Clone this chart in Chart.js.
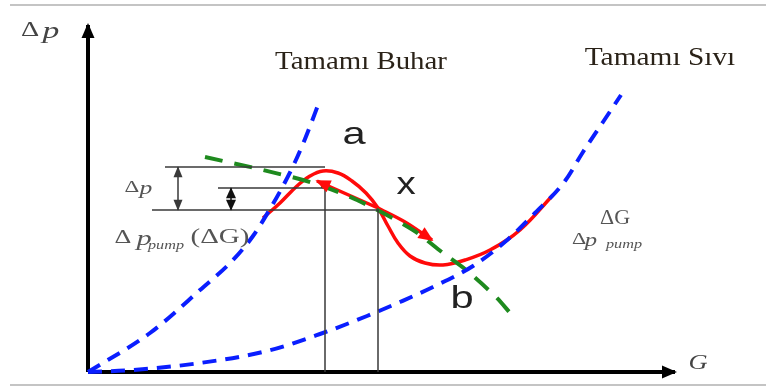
<!DOCTYPE html>
<html>
<head>
<meta charset="utf-8">
<script src="https://cdn.jsdelivr.net/npm/chart.js@4.4.1/dist/chart.umd.min.js"></script>
<style>
  html, body { margin: 0; padding: 0; background: #fff; }
</style>
</head>
<body>
<canvas id="pumpChart" width="766" height="387"></canvas>
<script>
// Curves in (G, dp) units, origin at the axis corner
const buharCurve = [[0,0],[62,39],[112,82],[145,112],[165,136],[182,163],[195,186],[207,210],[217,233],[232,272]];
const siviCurve = [[0,0],[45,2],[112,9],[179,21],[232,38],[279,56],[312,70],[345,85],[385,106],[418,131],[447,159],[477,191],[495,220],[515,250],[533,277]];
const pumpLine = [[117,215],[175,202],[225,189],[269,172],[325,142],[355,119],[378,102],[408,75],[423,58]];
const redLoop = [[175,154],[192,169],[209,186],[222,196],[235,201],[250,199],[264,191],[278,179],[290,164],[300,146],[310,129],[322,116],[337,109],[355,107],[377,112],[402,122],[432,142],[465,177]];
const arrowBack = [[290,164],[229,191]];
const arrowFwd = [[290,164],[317,150],[344,132]];

// axes and helper lines
const gAxis = [[0,0],[587,0]];
const dpAxis = [[0,0],[0,347]];
const guideTop = [[77,205],[237,205]];
const guideMid = [[130,184],[237,184],[237,0]];
const guideLow = [[64,162],[290,162],[290,0]];
const dpArrow = [[90,205],[90,162]];
const dpSmall = [[143,184],[143,162]];
const frameTop = [[-78,367],[678,367]];
const frameBottom = [[-78,-13],[678,-13]];

const toXY = pts => pts.map(p => ({ x: p[0], y: p[1] }));

function line(pts, color, width, extra) {
  return Object.assign({
    data: toXY(pts),
    showLine: true,
    borderColor: color,
    backgroundColor: color,
    borderWidth: width,
    pointRadius: 0,
    tension: 0,
    fill: false
  }, extra || {});
}

const BLUE = '#0a1eff';
const GREEN = '#1e8a1e';
const RED = '#ff0a0a';
const INK = '#3a3a3a';

const datasets = [
  line(frameTop, '#c4c4c4', 2),
  line(frameBottom, '#c4c4c4', 2),
  line(guideTop, INK, 1.5),
  line(guideMid, INK, 1.5),
  line(guideLow, INK, 1.5),
  line(dpArrow, INK, 1.5, { arrowStart: [11, 9], arrowEnd: [11, 9] }),
  line(dpSmall, '#111', 1.5, { arrowStart: [11, 10], arrowEnd: [11, 10] }),
  line(buharCurve, BLUE, 4, { borderDash: [14, 9], cubicInterpolationMode: 'monotone' }),
  line(siviCurve, BLUE, 4, { borderDash: [14, 9], cubicInterpolationMode: 'monotone' }),
  line(pumpLine, GREEN, 4, { borderDash: [18, 12], tension: 0.3 }),
  line(redLoop, RED, 3.5, { tension: 0.4 }),
  line(arrowBack, RED, 3.5, { arrowEnd: [15, 13] }),
  line(arrowFwd, RED, 3.5, { tension: 0.3, arrowEnd: [15, 13] }),
  line(gAxis, '#000', 4, { arrowEnd: [15, 13] }),
  line(dpAxis, '#000', 4, { arrowEnd: [15, 13] })
];

// text placed in data units; sx widens the glyphs
const SERIF = '"Liberation Serif"';
const SANS = '"Liberation Sans"';
const notes = [
  { t: 'Tamamı Buhar', x: 273, y: 310, f: '26px ' + SERIF, c: '#2a2218', sx: 1.11 },
  { t: 'Tamamı Sıvı', x: 572, y: 314, f: '26px ' + SERIF, c: '#2a2218', sx: 1.13 },
  { t: 'Δ', x: -58, y: 342, f: '21px ' + SERIF, c: '#444', sx: 1.35 },
  { t: 'p', x: -37, y: 340, f: 'italic 24px ' + SERIF, c: '#444', sx: 1.4 },
  { t: 'G', x: 610, y: 9, f: 'italic 22px ' + SERIF, c: '#444', sx: 1.2 },
  { t: 'Δ', x: 44, y: 184, f: '17px ' + SERIF, c: '#555', sx: 1.35 },
  { t: 'p', x: 58, y: 183, f: 'italic 19px ' + SERIF, c: '#555', sx: 1.35 },
  { t: 'Δ', x: 35, y: 134, f: '18px ' + SERIF, c: '#555', sx: 1.45 },
  { t: 'p', x: 56, y: 133, f: 'italic 21px ' + SERIF, c: '#555', sx: 1.45 },
  { t: 'pump', x: 78, y: 126, f: 'italic 12px ' + SERIF, c: '#555', sx: 1.35 },
  { t: '(ΔG)', x: 132, y: 134, f: '20px ' + SERIF, c: '#555', sx: 1.45 },
  { t: 'ΔG', x: 527, y: 153, f: '20px ' + SERIF, c: '#555', sx: 1.1 },
  { t: 'Δ', x: 491, y: 132, f: '17px ' + SERIF, c: '#555', sx: 1.3 },
  { t: 'p', x: 503, y: 131, f: 'italic 19px ' + SERIF, c: '#555', sx: 1.3 },
  { t: 'pump', x: 536, y: 127, f: 'italic 13px ' + SERIF, c: '#555', sx: 1.25 },
  { t: 'a', x: 266, y: 237, f: '32px ' + SANS, c: '#222', sx: 1.3 },
  { t: 'x', x: 318, y: 187, f: '32px ' + SANS, c: '#222', sx: 1.2 },
  { t: 'b', x: 374, y: 73, f: '32px ' + SANS, c: '#222', sx: 1.3 }
];

function drawHead(ctx, from, to, size, color, lw) {
  const ang = Math.atan2(to.y - from.y, to.x - from.x);
  ctx.save();
  ctx.translate(to.x, to.y);
  ctx.rotate(ang);
  ctx.beginPath();
  ctx.moveTo(lw / 2, 0);
  ctx.lineTo(lw / 2 - size[0], size[1] / 2);
  ctx.lineTo(lw / 2 - size[0], -size[1] / 2);
  ctx.closePath();
  ctx.fillStyle = color;
  ctx.fill();
  ctx.restore();
}

const arrowHeads = {
  id: 'arrowHeads',
  afterDatasetsDraw(chart) {
    const ctx = chart.ctx;
    chart.data.datasets.forEach((ds, i) => {
      const pts = chart.getDatasetMeta(i).data;
      if (ds.arrowEnd) drawHead(ctx, pts[pts.length - 2], pts[pts.length - 1], ds.arrowEnd, ds.borderColor, ds.borderWidth);
      if (ds.arrowStart) drawHead(ctx, pts[1], pts[0], ds.arrowStart, ds.borderColor, ds.borderWidth);
    });
  }
};

const textNotes = {
  id: 'textNotes',
  afterDraw(chart) {
    const ctx = chart.ctx;
    const xs = chart.scales.x, ys = chart.scales.y;
    notes.forEach(n => {
      ctx.save();
      ctx.translate(xs.getPixelForValue(n.x), ys.getPixelForValue(n.y));
      ctx.scale(n.sx || 1, 1);
      ctx.textAlign = 'center';
      ctx.textBaseline = 'middle';
      ctx.font = n.f;
      ctx.fillStyle = n.c;
      ctx.fillText(n.t, 0, 0);
      ctx.restore();
    });
  }
};

new Chart(document.getElementById('pumpChart'), {
  type: 'scatter',
  data: { datasets: datasets },
  options: {
    responsive: false,
    animation: false,
    events: [],
    layout: { padding: 0 },
    scales: {
      x: { type: 'linear', min: -88, max: 678, display: false },
      y: { type: 'linear', min: -15, max: 372, display: false }
    },
    plugins: {
      legend: { display: false },
      tooltip: { enabled: false }
    }
  },
  plugins: [arrowHeads, textNotes]
});
</script>
</body>
</html>
